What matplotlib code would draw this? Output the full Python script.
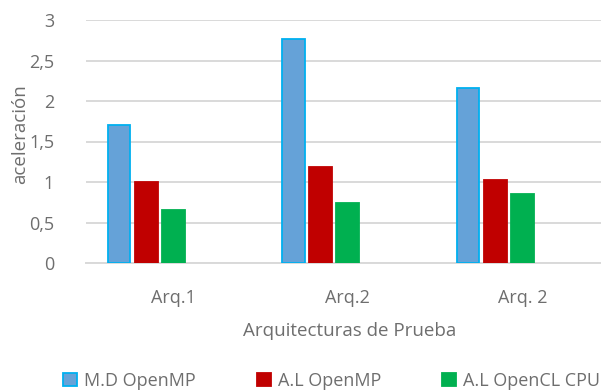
import matplotlib
matplotlib.use("Agg")
import matplotlib.pyplot as plt
from matplotlib.ticker import FuncFormatter
import numpy as np

categories = ["Arq.1", "Arq.2", "Arq. 2"]
series_names = ["M.D OpenMP", "A.L OpenMP", "A.L OpenCL CPU"]
md_openmp = [1.70, 2.77, 2.16]
al_openmp = [1.00, 1.19, 1.02]
al_opencl_cpu = [0.66, 0.74, 0.85]
y_ticks = [0, 0.5, 1, 1.5, 2, 2.5, 3]

series_values = [md_openmp, al_openmp, al_opencl_cpu]
fills = ["#65A2D8", "#C00000", "#00B050"]
edges = ["#00B0F0", "#C00000", "#00B050"]
text_color = "#6E6E6E"

plt.rcParams["font.family"] = ["Open Sans", "DejaVu Sans"]

W, H = 601, 392
fig = plt.figure(figsize=(W / 100, H / 100), dpi=100)
# plot area runs past the right edge of the canvas
ax = fig.add_axes([86 / W, (H - 263) / H, 523.5 / W, 243 / H])

x = np.arange(len(categories))
slot = 0.155
bar_w = 0.13
offsets = [-2 * slot, -slot, 0.0]
containers = []
for vals, off, fc, ec in zip(series_values, offsets, fills, edges):
    c = ax.bar(x + off, vals, width=bar_w, color=fc, edgecolor=ec,
               linewidth=1.3, zorder=3)
    containers.append(c)

ax.set_xlim(-0.5, 2.5)
ax.set_ylim(0, 3)
ax.set_yticks(y_ticks)
ax.yaxis.set_major_formatter(FuncFormatter(lambda v, p: f"{v:g}".replace(".", ",")))
ax.set_xticks(x)
ax.set_xticklabels(categories)

ax.grid(axis="y", color="#D9D9D9", linewidth=1.4, zorder=0)
for s in ["top", "right", "left"]:
    ax.spines[s].set_visible(False)
ax.spines["bottom"].set_color("#D9D9D9")
ax.spines["bottom"].set_linewidth(1.4)
ax.tick_params(axis="both", length=0, colors=text_color, labelsize=13)
ax.tick_params(axis="y", pad=23)
ax.tick_params(axis="x", pad=19)

fig.text(20 / W, 1 - 134 / H, "aceleración", rotation=90, ha="center",
         va="center", color=text_color, fontsize=13.5)
fig.text(350 / W, 1 - 331 / H, "Arquitecturas de Prueba", ha="center",
         va="center", color=text_color, fontsize=13.5)

legend_x = [63, 257, 442]
for c, name, lx in zip(containers, series_names, legend_x):
    fig.legend(handles=[c], labels=[name], loc="center left",
               bbox_to_anchor=(lx / W, 1 - 381 / H), frameon=False,
               handlelength=0.75, handleheight=0.75, handletextpad=0.4,
               borderpad=0, borderaxespad=0, fontsize=13,
               labelcolor=text_color)

fig.savefig("out.png", dpi=100)
